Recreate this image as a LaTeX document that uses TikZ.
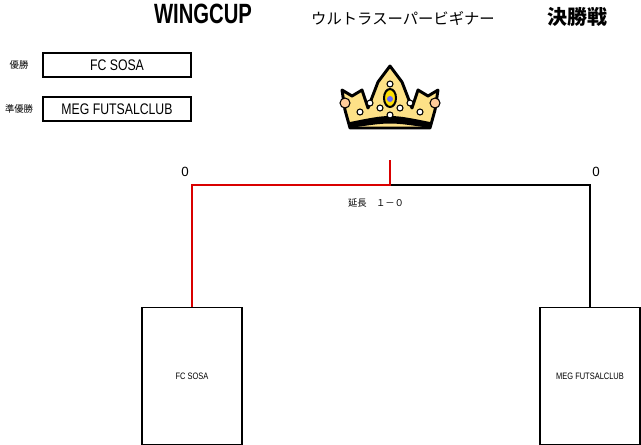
\documentclass[tikz,border=0pt]{standalone}
\usepackage{fontspec}
\setmainfont{Liberation Sans}
\newfontfamily\jp{Noto Sans CJK JP}
\newcommand{\narrowtxt}[1]{\scalebox{0.8}[1]{#1}}
\begin{document}
\begin{tikzpicture}[x=0.75pt,y=-0.75pt,
  team/.style={draw,thick,minimum width=148*0.75pt,minimum height=24*0.75pt,inner sep=0pt,font=\fontsize{11.5}{11.5}\selectfont},
  slot/.style={draw,thick,minimum width=100*0.75pt,minimum height=137*0.75pt,inner sep=0pt,font=\fontsize{7}{7}\selectfont},
  win/.style={red!85!black,thick},
  lose/.style={black,thick},
  lbl/.style={font=\jp\fontsize{7}{7}\selectfont}]
\useasboundingbox (0,0) rectangle (641,444);
\node (t1) at (203,14) {\fontsize{19}{19}\selectfont\bfseries\scalebox{0.8}[1.1]{WINGCUP}};
\node (t2) at (403,18) {\jp\fontsize{11.5}{12}\selectfont ウルトラスーパービギナー};
\node (t3) at (577,17) {\jp\fontsize{15}{15}\selectfont\bfseries 決勝戦};
\node[lbl] (l1) at (19,65) {優勝};
\node[lbl] (l2) at (19,109) {準優勝};
\node[team] (w) at (117,65) {\narrowtxt{FC SOSA}};
\node[team] (r) at (117,109) {\narrowtxt{MEG FUTSALCLUB}};
% crown
\begin{scope}[shift={(390,98)}]
\fill[yellow!55!orange!45!white,draw=black,line width=2.2pt,line join=round]
 (-40,30) -- (-45,12) -- (-48,-8) -- (-38,-2) -- (-28,-8) -- (-22,10) -- (-12,-16) -- (0,-32) -- (12,-16) -- (22,10) -- (28,-8) -- (38,-2) -- (48,-8) -- (45,12) -- (40,30) -- cycle;
\fill[black] (-40,24) .. controls (0,16) .. (40,24) -- (40,30) .. controls (0,24) .. (-40,30) -- cycle;
\draw[line width=1.5pt,fill=yellow!80!orange] (0,0) ellipse (6 and 9);
\fill[blue!60] (0,1) circle (3);
\foreach \p in {(-45,5),(45,5)} \draw[fill=orange!40,thick] \p circle (5);
\foreach \p in {(-20,5),(20,5),(-10,10),(10,10),(0,-14),(0,17),(-30,14),(30,14)} \draw[fill=white,thick] \p circle (3);
\end{scope}
\coordinate (top) at (390,160);
\coordinate (mid) at (390,185);
\coordinate (lc) at (192,185);
\coordinate (rc) at (590,185);
\node[slot,anchor=north] (s1) at (192,307) {\narrowtxt{FC SOSA}};
\node[slot,anchor=north] (s2) at (590,307) {\narrowtxt{MEG FUTSALCLUB}};
\draw[lose] (mid) -- (rc) -- (s2.north);
\draw[win] (top) -- (mid) -- (lc) -- (s1.north);
\node (sc1) at (185,172) {\fontsize{10}{10}\selectfont 0};
\node (sc2) at (596,172) {\fontsize{10}{10}\selectfont 0};
\node[lbl] (ext) at (376,203) {延長　１－０};
\end{tikzpicture}
\end{document}
